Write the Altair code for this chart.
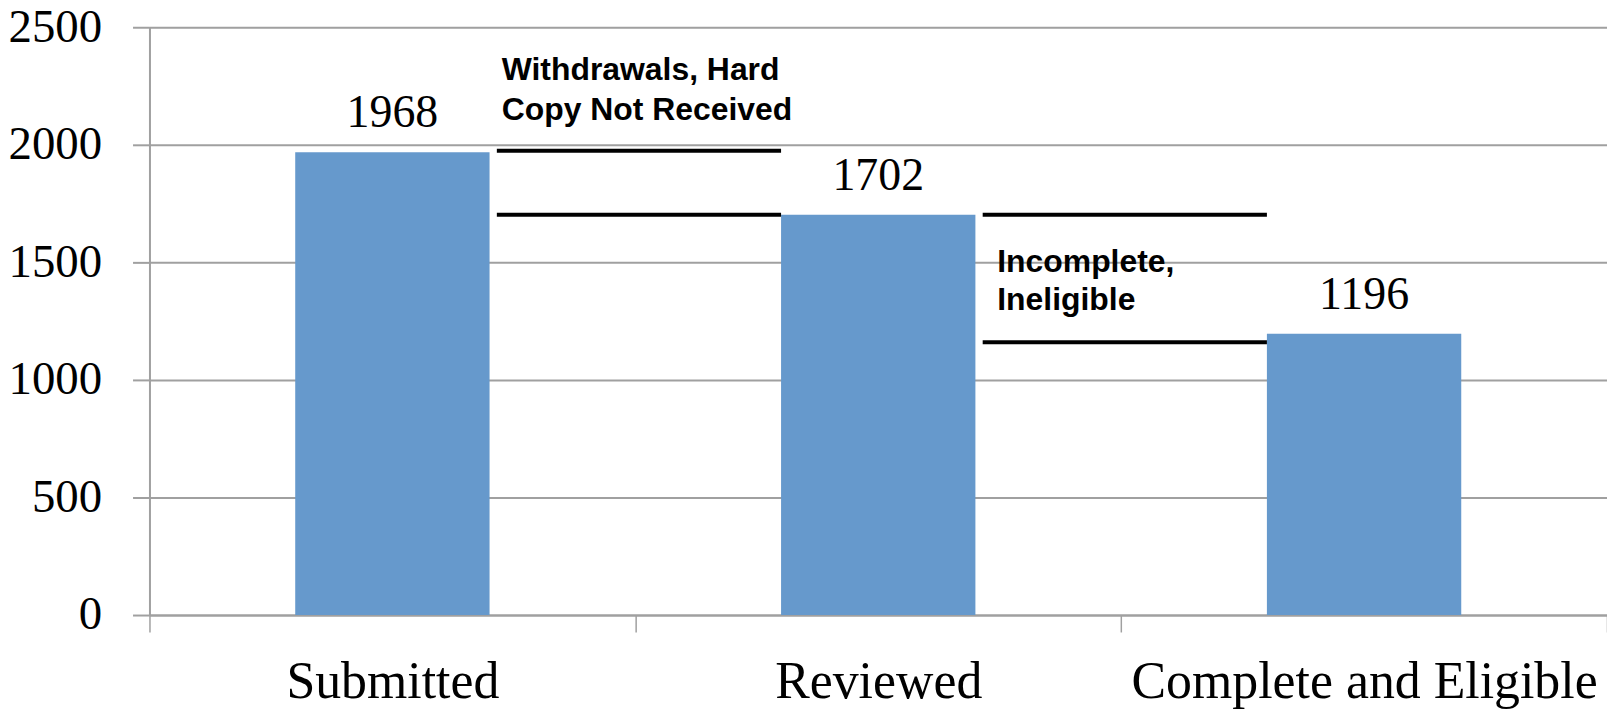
import altair as alt
import pandas as pd

# ---- data ----
categories = ["Submitted", "Reviewed", "Complete and Eligible"]
counts = [1968, 1702, 1196]

# annotation bracket lines (from category -> to category, level)
line_from = ["Submitted", "Submitted", "Reviewed", "Reviewed"]
line_to = ["Reviewed", "Reviewed", "Complete and Eligible", "Complete and Eligible"]
line_level = [1975, 1702, 1702, 1160]

# annotation texts
note1_cat = ["Submitted", "Submitted"]
note1_text = ["Withdrawals, Hard", "Copy Not Received"]
note1_y = [2275, 2105]
note2_cat = ["Reviewed", "Reviewed"]
note2_text = ["Incomplete,", "Ineligible"]
note2_y = [1457, 1297]

y_ticks = [0, 500, 1000, 1500, 2000, 2500]

bars_df = pd.DataFrame({"cat": categories, "count": counts})
lines_df = pd.DataFrame({"a": line_from, "b": line_to, "v": line_level})
n1_df = pd.DataFrame({"cat": note1_cat, "t": note1_text, "v": note1_y})
n2_df = pd.DataFrame({"cat": note2_cat, "t": note2_text, "v": note2_y})

GRAY = "#A0A0A0"
SERIF = "Liberation Serif"
SANS = "Liberation Sans"

x_scale = alt.Scale(domain=categories, paddingInner=0, paddingOuter=0)
y_scale = alt.Scale(domain=[0, 2500], nice=False)

x_axis = alt.Axis(
    title=None, labelAngle=0, labelFont=SERIF, labelFontSize=52, labelColor="black",
    domainColor=GRAY, domainWidth=2, tickColor=GRAY, tickWidth=1.5, tickSize=17,
    tickBand="extent", labelPadding=66, labelBaseline="alphabetic", grid=False,
    labelLimit=0, labelOverlap=False,
)
y_axis = alt.Axis(
    title=None, values=y_ticks, format="d", labelFont=SERIF, labelFontSize=47,
    labelColor="black", labelLimit=0,
    domainColor=GRAY, domainWidth=2, tickColor=GRAY, tickWidth=2, tickSize=17,
    labelPadding=31, grid=True, gridColor=GRAY, gridWidth=2,
)

bars = alt.Chart(bars_df).mark_bar(
    color="#6699CC", width=alt.RelativeBandSize(0.4)
).encode(
    x=alt.X("cat:N", scale=x_scale, axis=x_axis, sort=categories),
    y=alt.Y("count:Q", scale=y_scale, axis=y_axis),
)

values = alt.Chart(bars_df).mark_text(
    font=SERIF, fontSize=46, color="black", baseline="alphabetic", dy=-25
).encode(
    x=alt.X("cat:N", scale=x_scale, sort=categories),
    y=alt.Y("count:Q", scale=y_scale),
    text="count:Q",
)

rules = alt.Chart(lines_df).mark_rule(color="black", strokeWidth=4).encode(
    x=alt.X("a:N", scale=x_scale, bandPosition=0.715, sort=categories),
    x2=alt.X2("b", bandPosition=0.30),
    y=alt.Y("v:Q", scale=y_scale),
)

note1 = alt.Chart(n1_df).mark_text(
    font=SANS, fontSize=32, fontWeight="bold", color="black",
    align="left", baseline="alphabetic",
).encode(
    x=alt.X("cat:N", scale=x_scale, bandPosition=0.725, sort=categories),
    y=alt.Y("v:Q", scale=y_scale),
    text="t:N",
)

note2 = alt.Chart(n2_df).mark_text(
    font=SANS, fontSize=32, fontWeight="bold", color="black",
    align="left", baseline="alphabetic",
).encode(
    x=alt.X("cat:N", scale=x_scale, bandPosition=0.745, sort=categories),
    y=alt.Y("v:Q", scale=y_scale),
    text="t:N",
)

chart = alt.layer(bars, values, rules, note1, note2).properties(
    width=1463, height=590,
    padding={"left": 142, "top": 18, "right": 0, "bottom": 93},
    autosize=alt.AutoSizeParams(type="none"),
).configure_view(stroke=None).configure(background="white")

chart.save("out.html", embed_options={"renderer": "svg", "actions": False})
